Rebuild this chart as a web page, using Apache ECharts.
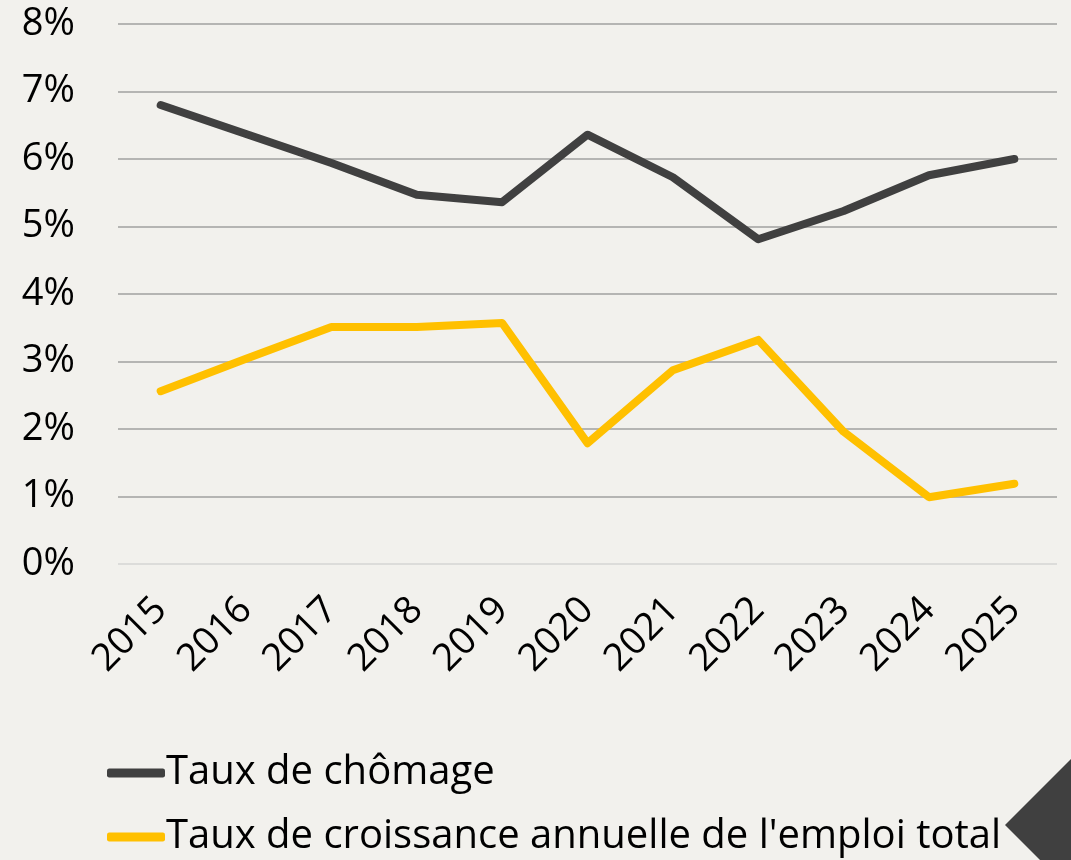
<!DOCTYPE html>
<html>
<head>
<meta charset="utf-8">
<script src="https://cdn.jsdelivr.net/npm/echarts@6/dist/echarts.min.js"></script>
<style>
  html, body { margin: 0; padding: 0; background: #f2f1ed; }
  #chart-container { width: 1071px; height: 860px; }
</style>
</head>
<body>
<div id="chart-container"></div>
<script>
// Data
const years = ["2015", "2016", "2017", "2018", "2019", "2020", "2021", "2022", "2023", "2024", "2025"];
const chomage = [6.8, 6.37, 5.94, 5.47, 5.36, 6.36, 5.73, 4.81, 5.23, 5.76, 6.0];
const croissanceEmploi = [2.56, 3.04, 3.51, 3.51, 3.57, 1.79, 2.87, 3.32, 1.96, 0.99, 1.19];
const seriesNames = ["Taux de chômage", "Taux de croissance annuelle de l'emploi total"];

const font = "'Open Sans', 'Noto Sans', sans-serif";

const dom = document.getElementById("chart-container");
const myChart = echarts.init(dom, null, { renderer: "canvas" });

// first grid line (0%) is lighter in the original
const gridColors = ["#dcdcda", "#b5b5b3", "#b5b5b3", "#b5b5b3", "#b5b5b3", "#b5b5b3", "#b5b5b3", "#b5b5b3", "#b5b5b3"];

// one legend per row, stacked
const legendBase = {
  left: 102,
  icon: "roundRect",
  itemWidth: 58,
  itemHeight: 9,
  textStyle: { fontSize: 40, color: "#000", fontFamily: font, padding: [0, 0, 0, -4] },
};

const option = {
  backgroundColor: "#f2f1ed",
  animation: false,
  grid: { left: 118, right: 14, top: 24, bottom: 296, containLabel: false },
  xAxis: {
    type: "category",
    data: years,
    boundaryGap: true,
    axisLine: { show: false },
    axisTick: { show: false },
    axisLabel: {
      rotate: 45,
      margin: 40,
      fontSize: 38,
      color: "#000",
      fontFamily: font,
    },
  },
  yAxis: {
    type: "value",
    min: 0,
    max: 8,
    interval: 1,
    axisLine: { show: false },
    axisTick: { show: false },
    splitLine: { lineStyle: { color: gridColors, width: 2 } },
    axisLabel: {
      formatter: "{value}%",
      margin: 43,
      fontSize: 38,
      color: "#000",
      fontFamily: font,
    },
  },
  legend: [
    Object.assign({}, legendBase, { top: 748, data: [seriesNames[0]] }),
    Object.assign({}, legendBase, { top: 812, data: [seriesNames[1]] }),
  ],
  series: [
    {
      name: seriesNames[0],
      type: "line",
      data: chomage,
      symbol: "none",
      color: "#404040",
      lineStyle: { width: 8, color: "#404040", cap: "round", join: "round" },
    },
    {
      name: seriesNames[1],
      type: "line",
      data: croissanceEmploi,
      symbol: "none",
      color: "#ffc000",
      lineStyle: { width: 8, color: "#ffc000", cap: "round", join: "round" },
    },
  ],
  graphic: [
    {
      type: "polygon",
      shape: { points: [[1005, 825], [1071, 759], [1071, 860], [1040, 860]] },
      style: { fill: "#404040" },
      silent: true,
    },
  ],
};

myChart.setOption(option);
window.addEventListener("resize", myChart.resize);
</script>
</body>
</html>
